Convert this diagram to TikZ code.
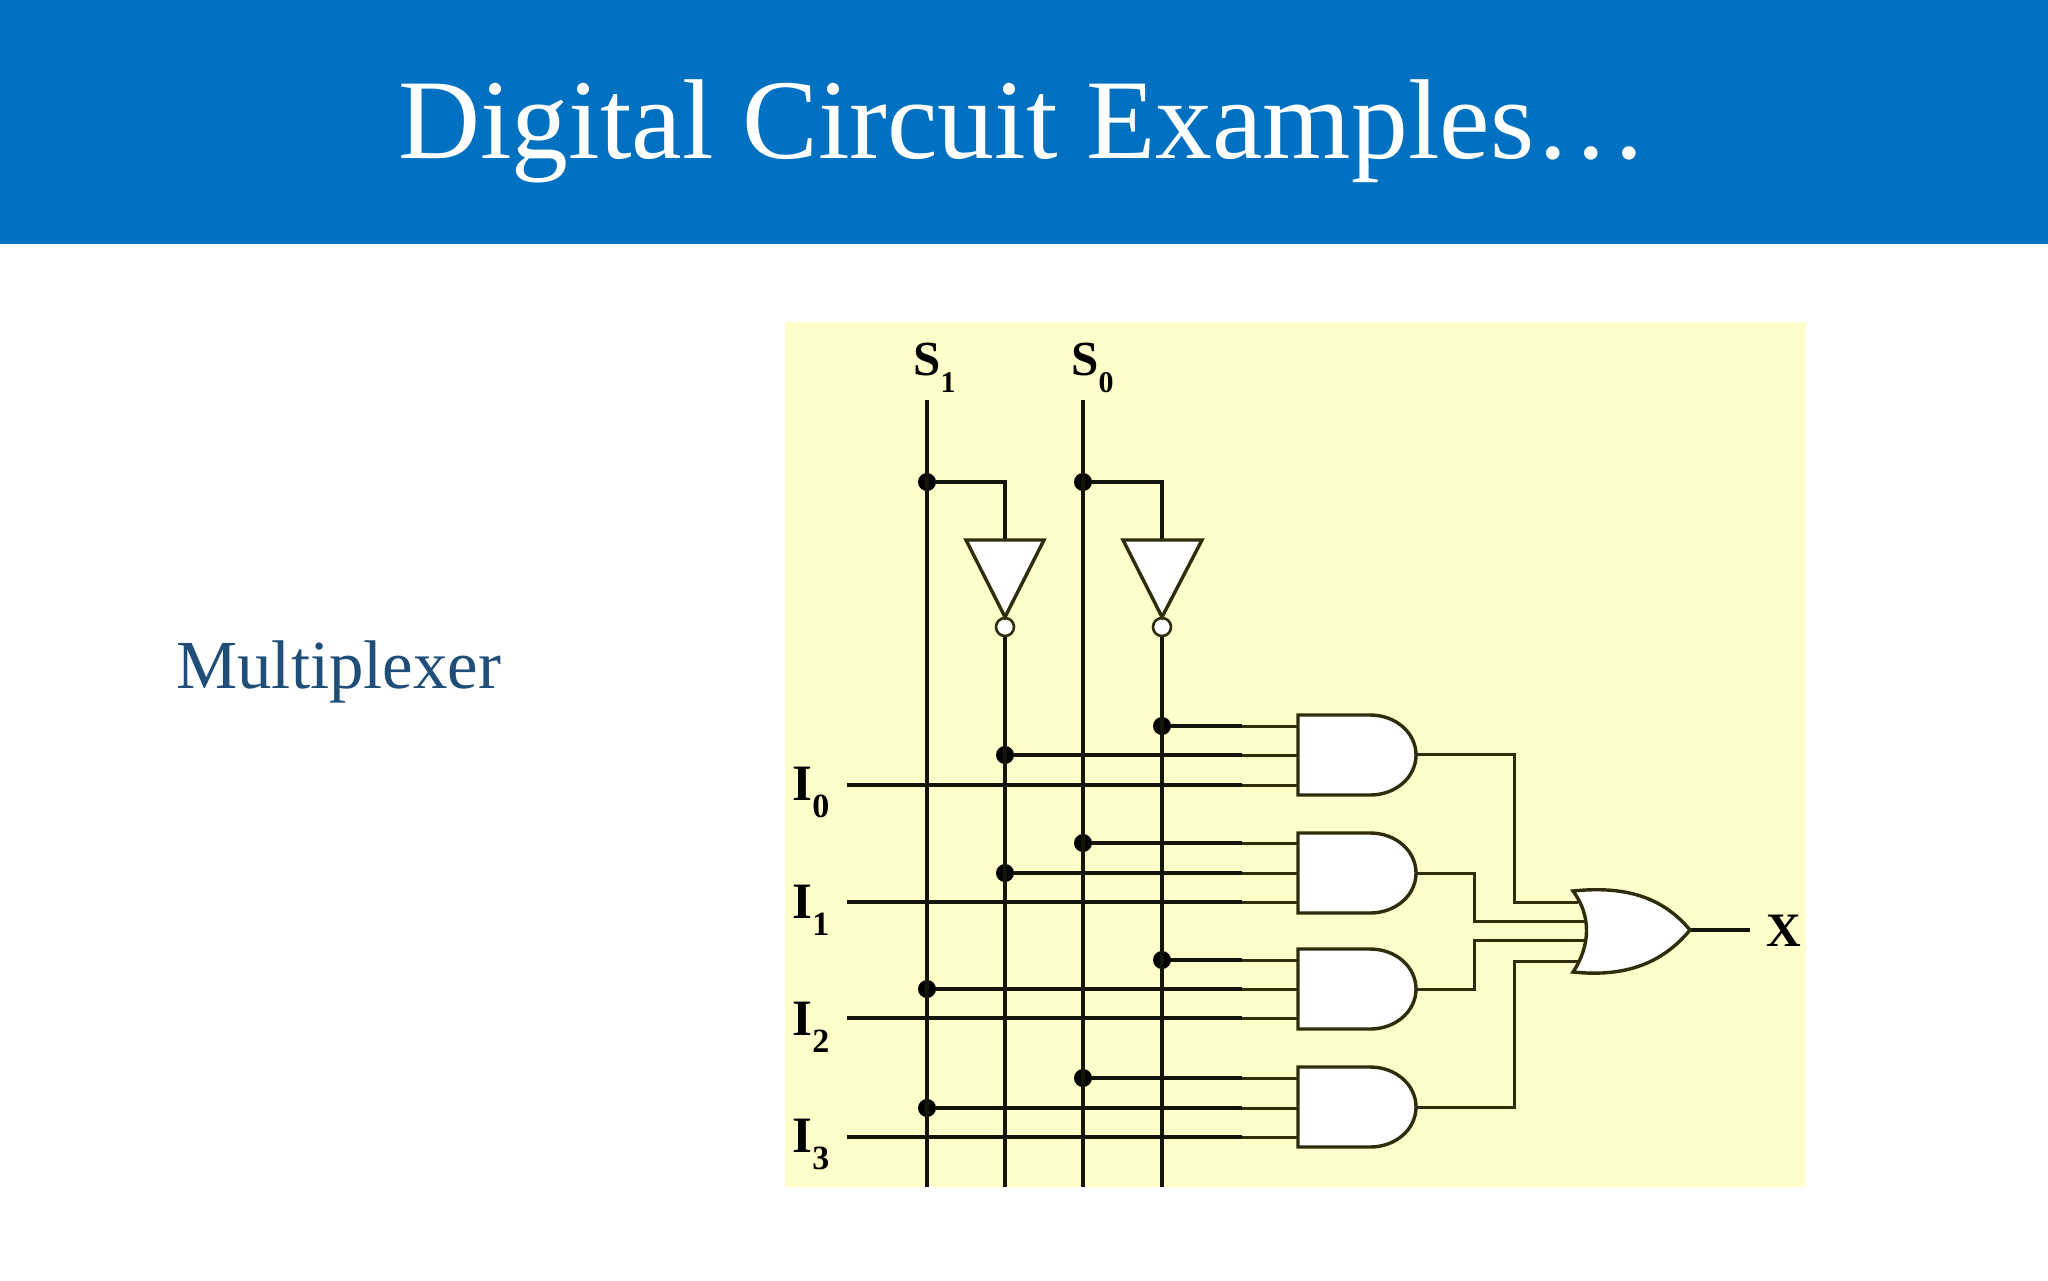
\documentclass[tikz,border=0pt]{standalone}
\usepackage{fontspec}
\setmainfont{Liberation Serif}
\usepackage{tikz}
\definecolor{banner}{HTML}{0070C0}
\definecolor{panel}{HTML}{FFFDCA}
\definecolor{sidetext}{HTML}{1F4E79}
\definecolor{thinink}{HTML}{2E2E0C}
\definecolor{inkblack}{HTML}{14140A}
\tikzset{
  wire/.style={line width=1.6pt,color=inkblack},
  thinwire/.style={line width=1.5pt,color=thinink},
  gate/.style={line width=1.7pt,draw=thinink,fill=white,line join=miter},
  junction/.style={circle,fill=black,inner sep=0pt,minimum size=9pt},
  bubble/.style={circle,draw=thinink,line width=1.3pt,fill=white,inner sep=0pt,minimum size=9pt},
  pinlabel/.style={anchor=base west,inner sep=0pt,text=black}
}
\newcommand{\selname}[2]{{\fontsize{24.5}{25}\selectfont\bfseries #1}\raisebox{-8.5pt}{\fontsize{15}{15}\selectfont\bfseries #2}}
\newcommand{\inname}[1]{{\fontsize{25.5}{26}\selectfont\bfseries I}\raisebox{-8.5pt}{\fontsize{17}{17}\selectfont\bfseries #1}}
\newcommand{\andgate}[1]{\draw[gate] (1298,{#1-40}) to (1370,{#1-40}) .. controls (1396,{#1-40}) and (1416,{#1-22}) .. (1416,#1) .. controls (1416,{#1+22}) and (1396,{#1+40}) .. (1370,{#1+40}) to (1298,{#1+40}) -- cycle;}

\begin{document}
\begin{tikzpicture}[x=0.5pt,y=-0.5pt]
  \useasboundingbox (0,0) rectangle (2048,1280);
  \fill[banner] (0,0) rectangle (2048,244);
  \fill[panel] (785,322) rectangle (1806,1187);
  \node[anchor=base,inner sep=0pt,text=white,font=\fontsize{56.8}{57}\selectfont] (title) at (1023,158) {Digital Circuit Examples…};
  \node[anchor=base west,inner sep=0pt,text=sidetext,font=\fontsize{34.4}{35}\selectfont] (side) at (176,688) {Multiplexer};

  \node[pinlabel] (s1) at (913,375) {\selname{S}{1}};
  \node[pinlabel] (s0) at (1071,375) {\selname{S}{0}};
  \node[pinlabel] (i0) at (792,800) {\inname{0}};
  \node[pinlabel] (i1) at (792,918) {\inname{1}};
  \node[pinlabel] (i2) at (792,1035) {\inname{2}};
  \node[pinlabel] (i3) at (792,1152) {\inname{3}};
  \node[pinlabel,font=\fontsize{24}{24}\selectfont\bfseries] (x) at (1766,946) {X};

  % free ends
  \coordinate (s1top) at (927,400);
  \coordinate (s1bot) at (927,1187);
  \coordinate (s0top) at (1083,400);
  \coordinate (s0bot) at (1083,1187);
  \coordinate (n1bot) at (1005,1187);
  \coordinate (n0bot) at (1162,1187);
  \coordinate (inv1in) at (1005,540);
  \coordinate (inv0in) at (1162,540);
  \coordinate (in0) at (847,785);
  \coordinate (in1) at (847,902);
  \coordinate (in2) at (847,1018);
  \coordinate (in3) at (847,1137);
  \coordinate (fade) at (1242,0);
  \coordinate (pins) at (1298,0);

  \node[junction] (t1) at (927,482) {};
  \node[junction] (t0) at (1083,482) {};
  \node[bubble] (b1) at (1005,627) {};
  \node[bubble] (b0) at (1162,627) {};
  \node[junction] (a1) at (1162,726) {};
  \node[junction] (a2) at (1005,755) {};
  \node[junction] (b2) at (1083,843) {};
  \node[junction] (b3) at (1005,873) {};
  \node[junction] (c1) at (1162,960) {};
  \node[junction] (c2) at (927,989) {};
  \node[junction] (d1) at (1083,1078) {};
  \node[junction] (d2) at (927,1108) {};

  \draw[wire] (s1top) to (s1bot);
  \draw[wire] (s0top) to (s0bot);
  \draw[wire] (b1) to (n1bot);
  \draw[wire] (b0) to (n0bot);
  \draw[wire,line width=1.9pt] (t1) -| (inv1in);
  \draw[wire,line width=1.9pt] (t0) -| (inv0in);

  \draw[wire] (a1) to (a1 -| fade);
  \draw[wire] (a2) to (a2 -| fade);
  \draw[wire] (in0) to (in0 -| fade);
  \draw[wire] (b2) to (b2 -| fade);
  \draw[wire] (b3) to (b3 -| fade);
  \draw[wire] (in1) to (in1 -| fade);
  \draw[wire] (c1) to (c1 -| fade);
  \draw[wire] (c2) to (c2 -| fade);
  \draw[wire] (in2) to (in2 -| fade);
  \draw[wire] (d1) to (d1 -| fade);
  \draw[wire] (d2) to (d2 -| fade);
  \draw[wire] (in3) to (in3 -| fade);

  \draw[thinwire] (a1 -| fade) to (a1 -| pins);
  \draw[thinwire] (a2 -| fade) to (a2 -| pins);
  \draw[thinwire] (in0 -| fade) to (in0 -| pins);
  \draw[thinwire] (b2 -| fade) to (b2 -| pins);
  \draw[thinwire] (b3 -| fade) to (b3 -| pins);
  \draw[thinwire] (in1 -| fade) to (in1 -| pins);
  \draw[thinwire] (c1 -| fade) to (c1 -| pins);
  \draw[thinwire] (c2 -| fade) to (c2 -| pins);
  \draw[thinwire] (in2 -| fade) to (in2 -| pins);
  \draw[thinwire] (d1 -| fade) to (d1 -| pins);
  \draw[thinwire] (d2 -| fade) to (d2 -| pins);
  \draw[thinwire] (in3 -| fade) to (in3 -| pins);

  % gate outputs
  \coordinate (out0) at (1416,754);
  \coordinate (out1) at (1416,873);
  \coordinate (out2) at (1416,989);
  \coordinate (out3) at (1416,1107);
  \coordinate (or0) at (1578,902);
  \coordinate (or1) at (1587,921);
  \coordinate (or2) at (1587,940);
  \coordinate (or3) at (1578,961);
  \coordinate (ortip) at (1690,930);
  \coordinate (xend) at (1750,930);
  \coordinate (bus0) at (1514,0);
  \coordinate (bus1) at (1474,0);

  \draw[thinwire] (out0) to (out0 -| bus0) to (or0 -| bus0) to (or0);
  \draw[thinwire] (out1) to (out1 -| bus1) to (or1 -| bus1) to (or1);
  \draw[thinwire] (out2) to (out2 -| bus1) to (or2 -| bus1) to (or2);
  \draw[thinwire] (out3) to (out3 -| bus0) to (or3 -| bus0) to (or3);
  \draw[wire] (ortip) to (xend);

  \andgate{755}
  \andgate{873}
  \andgate{989}
  \andgate{1107}
  \draw[gate] (1573,891) .. controls (1630,885) and (1665,900) .. (ortip) .. controls (1665,960) and (1630,978) .. (1573,972) .. controls (1591,945) and (1591,915) .. (1573,891) -- cycle;
  \draw[gate] (966,540) to (1044,540) to (1005,617) -- cycle;
  \draw[gate] (1123,540) to (1202,540) to (1162,617) -- cycle;
\end{tikzpicture}
\end{document}
